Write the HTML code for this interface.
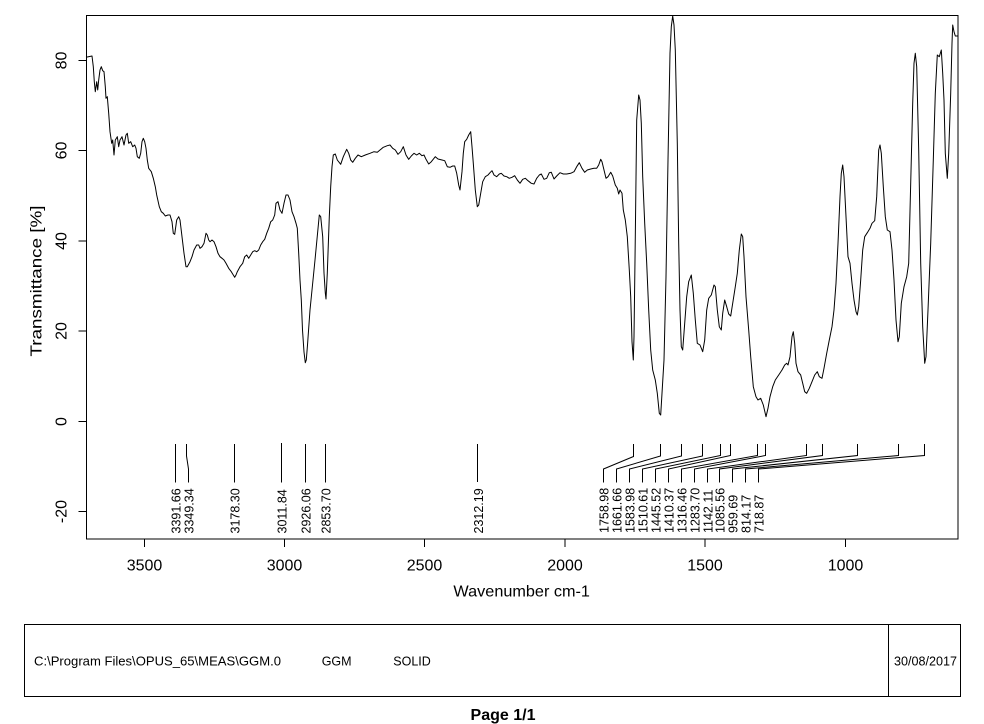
<!DOCTYPE html>
<html><head><meta charset="utf-8"><style>
html,body{margin:0;padding:0;background:#fff;}
svg{display:block;}
text{font-family:"Liberation Sans",Arial,sans-serif;fill:#000;}
</style></head><body>
<svg width="984" height="724" viewBox="0 0 984 724" xmlns="http://www.w3.org/2000/svg">
<rect x="0" y="0" width="984" height="724" fill="#fff"/>
<!-- plot box -->
<rect x="86.5" y="15.5" width="871.5" height="523.5" fill="none" stroke="#000" stroke-width="1"/>
<!-- y ticks -->
<g stroke="#000" stroke-width="1">
<line x1="78.5" y1="60.5" x2="86.5" y2="60.5"/>
<line x1="78.5" y1="150.5" x2="86.5" y2="150.5"/>
<line x1="78.5" y1="241" x2="86.5" y2="241"/>
<line x1="78.5" y1="331" x2="86.5" y2="331"/>
<line x1="78.5" y1="421.5" x2="86.5" y2="421.5"/>
<line x1="78.5" y1="511.5" x2="86.5" y2="511.5"/>
<!-- x ticks -->
<line x1="144.5" y1="539" x2="144.5" y2="547"/>
<line x1="284.5" y1="539" x2="284.5" y2="547"/>
<line x1="424.5" y1="539" x2="424.5" y2="547"/>
<line x1="565" y1="539" x2="565" y2="547"/>
<line x1="705" y1="539" x2="705" y2="547"/>
<line x1="845.5" y1="539" x2="845.5" y2="547"/>
</g>
<g font-size="16" text-anchor="middle">
<text transform="translate(66.5,60.5) rotate(-90)">80</text>
<text transform="translate(66.5,150.5) rotate(-90)">60</text>
<text transform="translate(66.5,241) rotate(-90)">40</text>
<text transform="translate(66.5,331) rotate(-90)">20</text>
<text transform="translate(66.5,421.5) rotate(-90)">0</text>
<text transform="translate(66.5,511.5) rotate(-90)">-20</text>
<text x="144.5" y="570.5">3500</text>
<text x="284.5" y="570.5">3000</text>
<text x="424.5" y="570.5">2500</text>
<text x="565" y="570.5">2000</text>
<text x="705" y="570.5">1500</text>
<text x="845.5" y="570.5">1000</text>
<text x="521.7" y="596.5" textLength="136.5" lengthAdjust="spacingAndGlyphs">Wavenumber cm-1</text>
<text transform="translate(41.5,281) rotate(-90)" textLength="151" lengthAdjust="spacingAndGlyphs" fill="#1a0a05">Transmittance [%]</text>
</g>
<!-- spectrum -->
<polyline fill="none" stroke="#000" stroke-width="1" stroke-linejoin="round" points="86,57.3 92,56 93.3,66.7 94.3,81.7 95.3,91.7 96.7,81.7 97.7,90 98.7,80 100,70 101.3,66.7 102.7,70.7 104,71.7 105.3,86.7 106,98.3 107.3,96.7 108.7,113.3 110,131.7 111.7,143.3 112.7,140 114,155 115.3,140 117.3,136.7 118.7,146.7 120,140 122,136.7 124,145 126,135 127.3,133.3 128.7,143.3 130.7,141.7 132.7,146.7 134.7,145 136,148.3 137.3,156.7 139.3,158.3 140.7,153.3 142,141.7 143.3,138.3 144.7,141.7 146,148.3 147.3,160 148.7,168.3 151.3,171.7 153.3,178.3 155.3,186.7 156.7,195 159.3,206.7 161.3,211.7 163.3,213.3 165.3,216 168,215 170,215 172,221.7 173.3,233.3 174.7,234.3 176.7,220 178.7,216.7 180,220 182,236.7 184,253.3 186,266.7 187.3,266.7 190,261.7 192,256.7 194,250 196.7,245 198.7,245 200,248.3 202,246.7 204,243.3 206,233.3 207.3,235 208.7,240 210,241.7 212,240 214,241.7 216,246.7 218,253.3 220,256.7 222,258.3 224,260 226,263.3 228.7,268.3 231.3,271.7 233.3,275 234.7,277.3 236,275 237.3,271.7 240,266.7 242.7,263.3 244.7,256.7 246.7,255 248.7,258.3 250.7,255 252.7,251.7 254.7,250.7 256.7,251.7 258.7,250 260.7,245 262.7,241.7 264.7,239.3 266.7,233.3 268.7,228.3 270.7,221.7 272.7,220 274.7,215 276,203.3 278,201.7 280,210 282,213.3 284,203.3 286,195 288,195 290,200 292,211.7 294,216.7 296,223.3 297.3,228.3 298.7,253.3 300,280 301.3,300 302.5,330 304,352 305.3,362.7 306.3,360 307.5,345 310,310 315,260 319.3,215 320.7,216.7 322.7,236.7 324,273 325.3,293 326,299 327.3,273 329.3,216.7 330.7,186.7 332,166.7 333.3,155 335.3,154 337.3,160 340.7,164.3 343.3,156.7 346.7,149.3 348.7,153.3 350.7,160 352.7,162.3 355.3,158.3 358,155 361.3,156.7 365.3,155 370,153.3 374,151.7 377.3,152.3 380,150 383.3,147.3 387.3,145.7 390,145 392.7,148.3 395.3,150 398,154.3 400.7,151.7 403.3,146.7 406,155 408.7,159.3 411.3,156 414,153.3 416.7,155 419.3,153.3 422,155.7 424,155 426,159.3 428.7,164 431.3,161.7 435.3,156.7 438,159 442,160 444.7,160.7 447.3,166.7 450,167.3 452.7,166 454.7,166 456.7,173.3 458.7,185 460,190 462,171.7 463.3,153.3 464.7,141.7 466.7,139.3 468.7,135 470.7,131.7 472,146.7 473.3,163.3 475.3,190 477.3,206.7 478.7,205 480.7,193.3 482.7,181.7 485.3,176.7 488,175 490,172.7 492,170.7 494,175 496.7,176.7 499.3,174 501.3,173.3 504,176 506.7,176.7 509.3,178.3 512,177.3 514.7,175.7 517.3,180 520,183.3 522.7,179.3 525.3,178.3 528,180.7 531.3,183.3 534,184 536.7,178.3 539.3,175 541.3,174 544,179.3 546.7,178.3 549.3,172.7 551.3,172.3 554,179 556.7,176 560,172.7 563.3,174 566.7,174 570.7,173.3 574,171.7 576.7,166.7 579.3,162.7 582,168.3 584.7,172.3 587.3,170 590.7,169 594,168.3 596.7,168.3 598.7,165 600.7,159.3 602,161.7 604,170 606,178.3 608,176.7 610.7,172.3 612.7,176 615.3,185 617.3,188.3 618.7,194 620,190 622,193.3 623.3,210 625.3,220 627.3,236.7 629.3,270 630.7,296.7 632,341.7 633.3,360 634,336.7 635.3,236.7 636.7,120 638.7,95 640,100 641.3,123.3 642.7,176.7 644.7,223.3 646.7,263.3 648.7,310 650.7,350 652.7,370 655.3,380 657.3,393.3 659.3,413.3 660.7,415 662,393.3 664,360 666,276.7 668,160 670,53.3 671.3,26.7 672.7,16 674,25 675.3,50 677.3,143.3 678.7,243.3 680,310 681.3,346.7 682.7,350 684.7,323.3 686.7,296.7 688.7,281.7 691.3,275 693.3,293.3 695.3,320 697.3,343.3 700,345 702.7,351.7 704.7,340 706.7,310 708.7,298.3 711.3,295 714,285 715.3,286.7 717.3,310 719.3,326.7 721.3,330 722.7,313.3 724.7,300 726.7,306.7 728.7,314 730.7,316 732.7,303.3 735.3,286.7 737.3,273.3 739.3,250 741.3,234 742.7,236.7 744,256.7 746,296.7 748.7,330 750.7,356.7 753.3,386.7 756,396.7 758,400 760.7,398.3 763.3,405 766,416.7 768,408.3 770,396.7 772.7,386.7 775.3,380 778.7,375 782,370 784.7,365 786.7,363.3 788,365 790,356.7 792,336.7 793.3,331.7 794.7,343.3 796,363.3 798,371.7 800.7,375 802.7,383.3 804.7,391.7 806.7,393.3 809.3,388.3 812,381.7 814.7,375 817.3,371.7 819.3,376.7 822,378.3 824,368.3 826.7,353.3 829.3,340 832,326.7 834,310 836,283.3 838,243.3 840,196.7 841.3,173.3 842.7,165 844,176.7 846,216.7 848,256.7 850,263.3 852,283.3 854,300 856,311.7 857.3,315 858.7,306.7 860.7,280 862.7,250 864.7,236.7 867.3,232.7 870,228.3 872,223.3 874.7,220.7 876.7,196.7 878.7,150 880,145 881.3,153.3 883.3,186.7 885.3,216.7 887.3,230 890,231.7 892,250 894,280 896,320 898,341.7 899.3,336.7 901.3,303.3 904,286.7 906.7,276.7 908.7,263.3 910.7,183.3 912.7,103.3 914,63.3 915.3,53.3 916.7,66.7 918.7,150 920.7,263.3 922.7,326.7 924.7,363.3 926,356.7 928,310 930.7,243.3 933.3,160 935.3,93.3 937.3,55 939.3,56.7 941.3,50 942.7,73.3 944,100 945.3,153.3 947.3,178.3 948.7,153.3 950.7,93.3 952,43.3 952.7,25 954,31.7 955.3,36 958,36"/>
<!-- peak label leader lines -->
<g fill="none" stroke="#000" stroke-width="1">
<polyline points="175.5,444 175.5,482.5"/>
<polyline points="186.5,444 186.5,456 188.5,469 188.5,482.5"/>
<polyline points="234.5,444 234.5,482.5"/>
<polyline points="281.5,443 281.5,482.5"/>
<polyline points="305.5,444 305.5,482.5"/>
<polyline points="325.5,444 325.5,482.5"/>
<polyline points="477.5,444 477.5,482"/>
<polyline points="633.5,444 633.5,456.5 603.5,469 603.5,482.5"/>
<polyline points="660.5,444 660.5,456 616.5,469 616.5,482.5"/>
<polyline points="681.5,444 681.5,456 629.5,469 629.5,482.5"/>
<polyline points="702.5,444 702.5,456 642.5,469 642.5,482.5"/>
<polyline points="720.5,444 720.5,455.5 655.5,469 655.5,482.5"/>
<polyline points="730.5,444 730.5,455.5 668.5,469 668.5,482.5"/>
<polyline points="757.5,444 757.5,455.5 681.5,469 681.5,482.5"/>
<polyline points="765.5,444 765.5,455.5 694.5,469 694.5,482.5"/>
<polyline points="806.5,444 806.5,455.5 707.5,469 707.5,482.5"/>
<polyline points="822.5,444 822.5,455.5 719.5,469 719.5,482.5"/>
<polyline points="857.5,444 857.5,455.5 732.5,469 732.5,482.5"/>
<polyline points="898.5,444 898.5,455.5 745.5,469 745.5,482.5"/>
<polyline points="924.5,444 924.5,455.5 758.5,469 758.5,482.5"/>
</g>
<g font-size="12.5" text-anchor="start">
<text transform="translate(180.5,533.5) rotate(-90)">3391.66</text>
<text transform="translate(193.5,533.5) rotate(-90)">3349.34</text>
<text transform="translate(239.5,533.5) rotate(-90)">3178.30</text>
<text transform="translate(286.5,533.5) rotate(-90)">3011.84</text>
<text transform="translate(310.5,533.5) rotate(-90)">2926.06</text>
<text transform="translate(330.5,533.5) rotate(-90)">2853.70</text>
<text transform="translate(483,533.5) rotate(-90)">2312.19</text>
<text transform="translate(608.5,533) rotate(-90)">1758.98</text>
<text transform="translate(621.5,533) rotate(-90)">1661.66</text>
<text transform="translate(634.5,533) rotate(-90)">1583.98</text>
<text transform="translate(647.5,533) rotate(-90)">1510.61</text>
<text transform="translate(660.5,533) rotate(-90)">1445.52</text>
<text transform="translate(673.5,533) rotate(-90)">1410.37</text>
<text transform="translate(686.5,533) rotate(-90)">1316.46</text>
<text transform="translate(699.5,533) rotate(-90)">1283.70</text>
<text transform="translate(712.5,533) rotate(-90)">1142.11</text>
<text transform="translate(724.5,533) rotate(-90)">1085.56</text>
<text transform="translate(737.5,533) rotate(-90)">959.69</text>
<text transform="translate(750.5,533) rotate(-90)">814.17</text>
<text transform="translate(763.5,533) rotate(-90)">718.87</text>
</g>
<!-- footer box -->
<rect x="24.5" y="624.5" width="936" height="72" fill="none" stroke="#000" stroke-width="1"/>
<line x1="888.5" y1="624.5" x2="888.5" y2="696.5" stroke="#000" stroke-width="1"/>
<g font-size="12.5">
<text x="34" y="665.5" textLength="247" lengthAdjust="spacingAndGlyphs">C:\Program Files\OPUS_65\MEAS\GGM.0</text>
<text x="321.7" y="665.5">GGM</text>
<text x="393.3" y="665.5">SOLID</text>
<text x="894" y="665.5" textLength="63" lengthAdjust="spacingAndGlyphs">30/08/2017</text>
</g>
<text x="503" y="720" font-size="16" font-weight="bold" text-anchor="middle">Page 1/1</text>
</svg>
</body></html>
